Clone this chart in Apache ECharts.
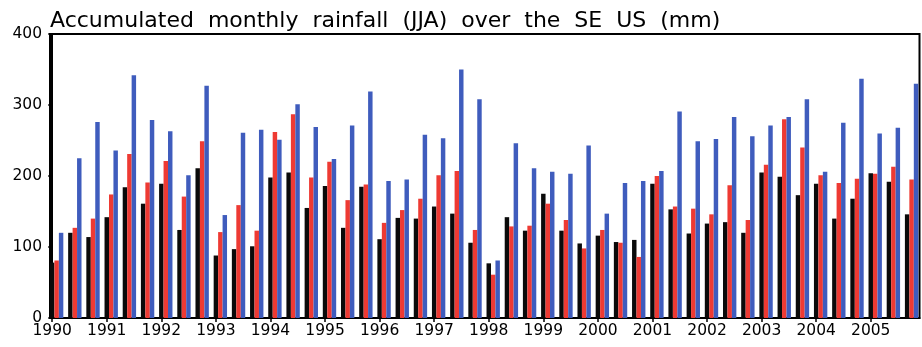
<!DOCTYPE html>
<html>
<head>
<meta charset="utf-8">
<script src="https://cdn.jsdelivr.net/npm/echarts@6.0.0/dist/echarts.min.js"></script>
<style>
  html, body { margin: 0; padding: 0; background: #fff; }
  #chart { width: 922px; height: 347px; }
</style>
</head>
<body>
<div id="chart"></div>
<script>
// Year labels along the bottom axis (one per June-July-August triple)
const years = ['1990', '1991', '1992', '1993', '1994', '1995', '1996', '1997',
               '1998', '1999', '2000', '2001', '2002', '2003', '2004', '2005'];

// Monthly rainfall totals (mm), Jun/Jul/Aug of each year in order
const black = [ 78, 120, 114, 142, 184, 161, 189, 124, 211,  88,  97, 101,
               198, 205, 155, 186, 127, 185, 111, 141, 140, 157, 147, 106,
                77, 142, 123, 175, 123, 105, 116, 107, 110, 189, 153, 119,
               133, 135, 120, 205, 199, 173, 189, 140, 168, 204, 192, 146];

const red   = [ 81, 127, 140, 174, 231, 191, 221, 171, 249, 121, 159, 123,
               262, 287, 198, 220, 166, 188, 134, 152, 168, 201, 207, 124,
                61, 129, 130, 161, 138,  98, 124, 106,  86, 200, 157, 154,
               146, 187, 138, 216, 280, 240, 201, 190, 196, 203, 213, 195];

const blue  = [120, 225, 276, 236, 342, 279, 263, 201, 327, 145, 261, 265,
               251, 301, 269, 224, 271, 319, 193, 195, 258, 253, 350, 308,
                81, 246, 211, 206, 203, 243, 147, 190, 193, 207, 291, 249,
               252, 283, 256, 271, 283, 308, 206, 275, 337, 260, 268, 330];

// One bar is this fraction of a month slot; the triple is centred one bar
// to the right of the slot index so the black bar sits on the slot itself.
const BAR = 0.245;
const FONT = 'DejaVu Sans';

const toPoints = vals => vals.map((v, i) => [i + BAR, v]);
const yearTicks = years.map((_, k) => k * 3);

const barSeries = (vals, color) => ({
  type: 'bar',
  data: toPoints(vals),
  barWidth: (BAR * 100) + '%',
  barGap: '0%',
  itemStyle: { color: color },
  emphasis: { disabled: true }
});

const chart = echarts.init(document.getElementById('chart'), null, { renderer: 'canvas' });
chart.setOption({
  animation: false,
  backgroundColor: '#ffffff',
  title: {
    text: 'Accumulated  monthly  rainfall  (JJA)  over  the  SE  US  (mm)',
    left: 50,
    top: 10,
    padding: 0,
    textStyle: { fontFamily: FONT, fontSize: 22, fontWeight: 'normal', color: '#000' }
  },
  grid: {
    left: 50, right: 2.5, top: 34, bottom: 29,
    show: true, borderColor: '#000', borderWidth: 2,
    outerBoundsMode: 'none'
  },
  xAxis: {
    type: 'value',
    min: -0.12,
    max: 47.68,
    axisLine: { show: true, onZero: false, lineStyle: { color: '#000', width: 2 } },
    axisTick: { show: true, length: 4, customValues: yearTicks, lineStyle: { color: '#000', width: 1.5 } },
    axisLabel: {
      customValues: yearTicks,
      formatter: v => years[Math.round(v / 3)],
      margin: 5,
      fontFamily: FONT, fontSize: 15.5, color: '#000'
    },
    splitLine: { show: false }
  },
  yAxis: {
    type: 'value',
    min: 0, max: 400, interval: 100,
    axisLine: { show: true, lineStyle: { color: '#000', width: 2 } },
    axisTick: { show: true, length: 4, lineStyle: { color: '#000', width: 1.5 } },
    axisLabel: { margin: 8, fontFamily: FONT, fontSize: 15.5, color: '#000' },
    splitLine: { show: false }
  },
  series: [
    barSeries(black, '#0a0a0a'),
    barSeries(red, '#ee3a33'),
    barSeries(blue, '#3f5cbd')
  ]
});
</script>
</body>
</html>
